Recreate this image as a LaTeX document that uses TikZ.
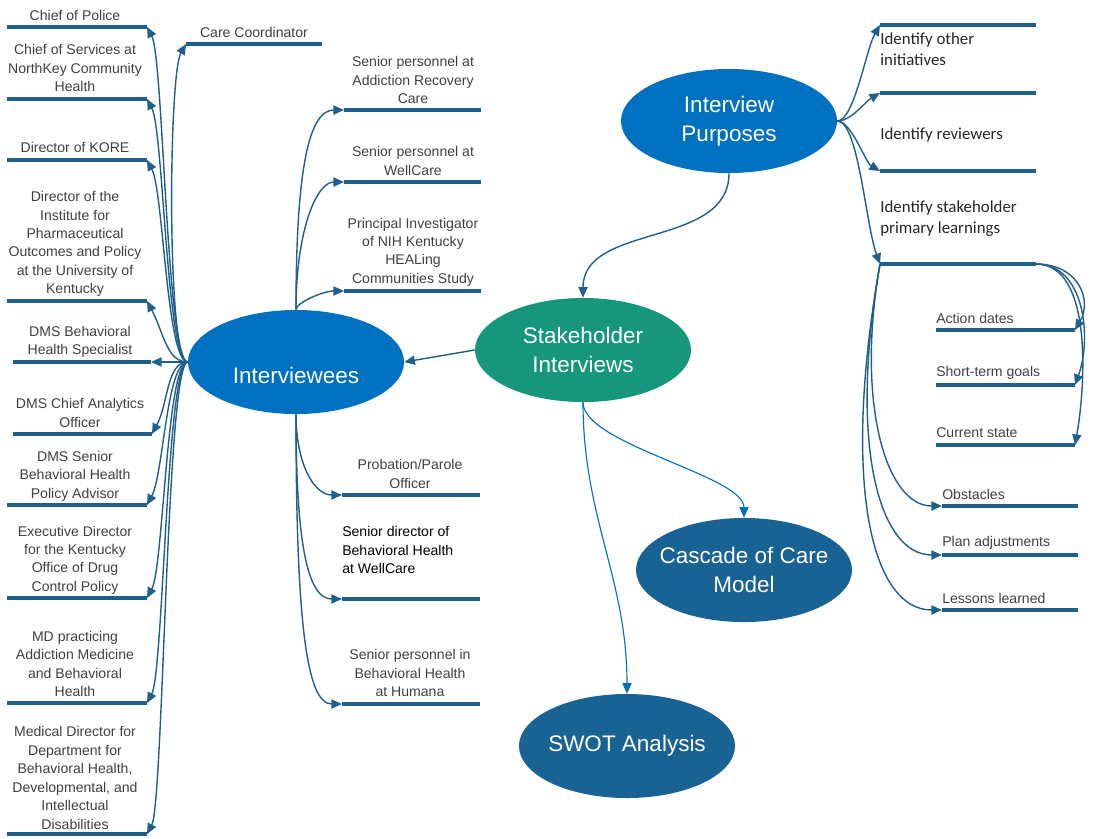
\documentclass[tikz,border=0pt]{standalone}
\usepackage{fontspec}
\setmainfont{Liberation Sans}
\newfontfamily\calibrifont{Carlito}
\usepackage{tkz-euclide}
\usetikzlibrary{arrows.meta,shapes.geometric}

\definecolor{barblue}{RGB}{31,95,140}
\definecolor{ovalblue}{RGB}{0,112,192}
\definecolor{ovalteal}{RGB}{22,150,122}
\definecolor{ovaldark}{RGB}{24,98,148}
\definecolor{labelgray}{RGB}{64,64,64}

\tikzset{
  oval/.style={ellipse,minimum width=5.4cm,minimum height=2.6cm,inner xsep=-14pt,inner ysep=0pt,
    text=white,align=center,font=\fontsize{16}{20.6}\selectfont},
  lbl/.style={text=labelgray,align=center,inner sep=0pt,font=\fontsize{10}{13.1}\selectfont},
  lbll/.style={lbl,align=left,anchor=west},
  idlbl/.style={text=black!85,align=left,anchor=west,inner sep=0pt,font=\calibrifont\fontsize{12}{15}\selectfont},
  bar/.style={draw=barblue,line width=2.8pt},
  link/.style={draw=barblue,line width=1pt,-{Triangle[length=7.5pt,width=6.5pt]}},
  thinlink/.style={draw=ovalblue,line width=0.8pt,-{Triangle[length=7.5pt,width=6.5pt]}},
  fanup/.style={out=180,in=-62,out distance=15pt,in distance=25pt},
  fandown/.style={out=180,in=62,out distance=15pt,in distance=25pt},
}

\begin{document}
\begin{tikzpicture}[x=0.025cm,y=-0.025cm]
	\useasboundingbox (0,0) rectangle (1097,838);

	% ovals
	\node[oval,fill=ovalblue] (purp) at (729,121) {Interview\\Purposes};
	\node[oval,fill=ovalteal] (stake) at (583,350) {Stakeholder\\Interviews};
	\node[oval,fill=ovalblue,text height=31pt] (ivw) at (296,362) {Interviewees};
	\node[oval,fill=ovaldark] (cascade) at (744,570) {Cascade of Care\\Model};
	\node[oval,fill=ovaldark] (swot) at (627,746) {SWOT Analysis};

	% left column
	\tkzDefPoint(7,27){p1}   \tkzDefPoint(147,27){q1}
	\tkzDefPoint(7,99){p2}   \tkzDefPoint(147,99){q2}
	\tkzDefPoint(7,160){p3}  \tkzDefPoint(147,160){q3}
	\tkzDefPoint(7,301){p4}  \tkzDefPoint(147,301){q4}
	\tkzDefPoint(13,362){p5} \tkzDefPoint(151,362){q5}
	\tkzDefPoint(13,434){p6} \tkzDefPoint(152,434){q6}
	\tkzDefPoint(7,505){p7}  \tkzDefPoint(147,505){q7}
	\tkzDefPoint(7,598){p8}  \tkzDefPoint(147,598){q8}
	\tkzDefPoint(7,703){p9}  \tkzDefPoint(147,703){q9}
	\tkzDefPoint(7,834){p10} \tkzDefPoint(147,834){q10}
	\tkzDefPoint(186,44){c1} \tkzDefPoint(322,44){c2}

	% middle column
	\tkzDefPoint(344,110){u1} \tkzDefPoint(481,110){v1}
	\tkzDefPoint(344,182){u2} \tkzDefPoint(481,182){v2}
	\tkzDefPoint(344,291){u3} \tkzDefPoint(481,291){v3}
	\tkzDefPoint(342,495){w1} \tkzDefPoint(480,495){z1}
	\tkzDefPoint(342,599){w2} \tkzDefPoint(480,599){z2}
	\tkzDefPoint(342,704){w3} \tkzDefPoint(480,704){z3}

	% right column
	\tkzDefPoint(880,25){r1}  \tkzDefPoint(1036,25){s1}
	\tkzDefPoint(880,93){r2}  \tkzDefPoint(1036,93){s2}
	\tkzDefPoint(880,171){r3} \tkzDefPoint(1036,171){s3}
	\tkzDefPoint(880,264){r4} \tkzDefPoint(1036,264){s4}
	\tkzDefPoint(936,330){a1} \tkzDefPoint(1075,330){b1}
	\tkzDefPoint(936,385){a2} \tkzDefPoint(1075,385){b2}
	\tkzDefPoint(936,445){a3} \tkzDefPoint(1075,445){b3}
	\tkzDefPoint(942,506){d1} \tkzDefPoint(1078,506){e1}
	\tkzDefPoint(942,555){d2} \tkzDefPoint(1078,555){e2}
	\tkzDefPoint(942,610){d3} \tkzDefPoint(1078,610){e3}

	\draw[bar] (p1) -- (q1) (p2) -- (q2) (p3) -- (q3) (p4) -- (q4) (p5) -- (q5);
	\draw[bar] (p6) -- (q6) (p7) -- (q7) (p8) -- (q8) (p9) -- (q9) (p10) -- (q10);
	\draw[bar] (c1) -- (c2) (u1) -- (v1) (u2) -- (v2) (u3) -- (v3);
	\draw[bar] (w1) -- (z1) (w2) -- (z2) (w3) -- (z3);
	\draw[bar] (r1) -- (s1) (r2) -- (s2) (r3) -- (s3) (r4) -- (s4);
	\draw[bar] (a1) -- (b1) (a2) -- (b2) (a3) -- (b3);
	\draw[bar] (d1) -- (e1) (d2) -- (e2) (d3) -- (e3);

	% connectors
	\draw[link] (purp.south) to[out=-90,in=90] (stake.north);
	\draw[link] (stake.west) -- (ivw.east);
	\draw[thinlink] (stake.south) to[out=-90,in=90,out distance=30pt,in distance=30pt] (cascade.north);
	\draw[thinlink] (stake.south) to[out=-90,in=90] (swot.north);

	\draw[link] (ivw.west) to[fanup] (q1);
	\draw[link] (ivw.west) to[fanup] (q2);
	\draw[link] (ivw.west) to[fanup] (q3);
	\draw[link] (ivw.west) to[fanup] (q4);
	\draw[link] (ivw.west) to[out=180,in=240,out distance=15pt,in distance=25pt] (c1);
	\draw[link] (ivw.west) -- (q5);
	\draw[link] (ivw.west) to[fandown] (q6);
	\draw[link] (ivw.west) to[fandown] (q7);
	\draw[link] (ivw.west) to[fandown] (q8);
	\draw[link] (ivw.west) to[fandown] (q9);
	\draw[link] (ivw.west) to[fandown] (q10);

	\draw[link] (ivw.north) to[out=90,in=180,out distance=100pt,in distance=25pt] (u1);
	\draw[link] (ivw.north) to[out=90,in=180,out distance=55pt,in distance=20pt] (u2);
	\draw[link] (ivw.north) to[out=90,in=180,out distance=5pt,in distance=15pt] (u3);
	\draw[link] (ivw.south) to[out=-90,in=180,out distance=35pt,in distance=20pt] (w1);
	\draw[link] (ivw.south) to[out=-90,in=180,out distance=90pt,in distance=25pt] (w2);
	\draw[link] (ivw.south) to[out=-90,in=180,out distance=150pt,in distance=25pt] (w3);

	\draw[link] (purp.east) to[out=0,in=240,out distance=12pt,in distance=20pt] (r1);
	\draw[link] (purp.east) to[out=0,in=210,out distance=10pt,in distance=12pt] (r2);
	\draw[link] (purp.east) to[out=0,in=150,out distance=10pt,in distance=12pt] (r3);
	\draw[link] (purp.east) to[out=0,in=110,out distance=15pt,in distance=30pt] (r4);

	\draw[link] (s4) to[out=0,in=60,out distance=30pt,in distance=25pt] (b1);
	\draw[link] (s4) to[out=0,in=70,out distance=35pt,in distance=35pt] (b2);
	\draw[link] (s4) to[out=0,in=80,out distance=40pt,in distance=45pt] (b3);
	\draw[link] (r4) to[out=-100,in=180,out distance=100pt,in distance=40pt] (d1);
	\draw[link] (r4) to[out=-100,in=180,out distance=130pt,in distance=45pt] (d2);
	\draw[link] (r4) to[out=-100,in=180,out distance=160pt,in distance=50pt] (d3);

	% labels
	\node[lbl] (police) at (75,15) {Chief of Police};
	\node[lbl] (services) at (75,68) {Chief of Services at\\NorthKey Community\\Health};
	\node[lbl] (kore) at (75,147) {Director of KORE};
	\node[lbl] (ipop) at (75,244) {Director of the\\Institute for\\Pharmaceutical\\Outcomes and Policy\\at the University of\\Kentucky};
	\node[lbl] (dmsbhs) at (80,342) {DMS Behavioral\\Health Specialist};
	\node[lbl] (dmscao) at (80,413) {DMS Chief Analytics\\Officer};
	\node[lbl] (dmssbh) at (75,476) {DMS Senior\\Behavioral Health\\Policy Advisor};
	\node[lbl] (odcp) at (75,560) {Executive Director\\for the Kentucky\\Office of Drug\\Control Policy};
	\node[lbl] (mdam) at (75,664) {MD practicing\\Addiction Medicine\\and Behavioral\\Health};
	\node[lbl] (mdbh) at (75,778) {Medical Director for\\Department for\\Behavioral Health,\\Developmental, and\\Intellectual\\Disabilities};
	\node[lbl] (carec) at (254,32) {Care Coordinator};

	\node[lbl] (arc) at (413,80) {Senior personnel at\\Addiction Recovery\\Care};
	\node[lbl] (wellc) at (413,161) {Senior personnel at\\WellCare};
	\node[lbl] (nih) at (413,252) {Principal Investigator\\of NIH Kentucky\\HEALing\\Communities Study};
	\node[lbl] (parole) at (410,474) {Probation/Parole\\Officer};
	\node[lbll,text=black] (sdbh) at (342,550) {Senior director of\\Behavioral Health\\at WellCare};
	\node[lbl] (humana) at (410,673) {Senior personnel in\\Behavioral Health\\at Humana};

	\node[idlbl] (other) at (880,49) {Identify other\\initiatives};
	\node[idlbl] (review) at (880,135) {Identify reviewers};
	\node[idlbl] (learn) at (880,219) {Identify stakeholder\\primary learnings};
	\node[lbll] (dates) at (936,318) {Action dates};
	\node[lbll] (goals) at (936,373) {Short-term goals};
	\node[lbll] (state) at (936,433) {Current state};
	\node[lbll] (obst) at (942,494) {Obstacles};
	\node[lbll] (adjust) at (942,543) {Plan adjustments};
	\node[lbll] (lessons) at (942,598) {Lessons learned};
\end{tikzpicture}
\end{document}
